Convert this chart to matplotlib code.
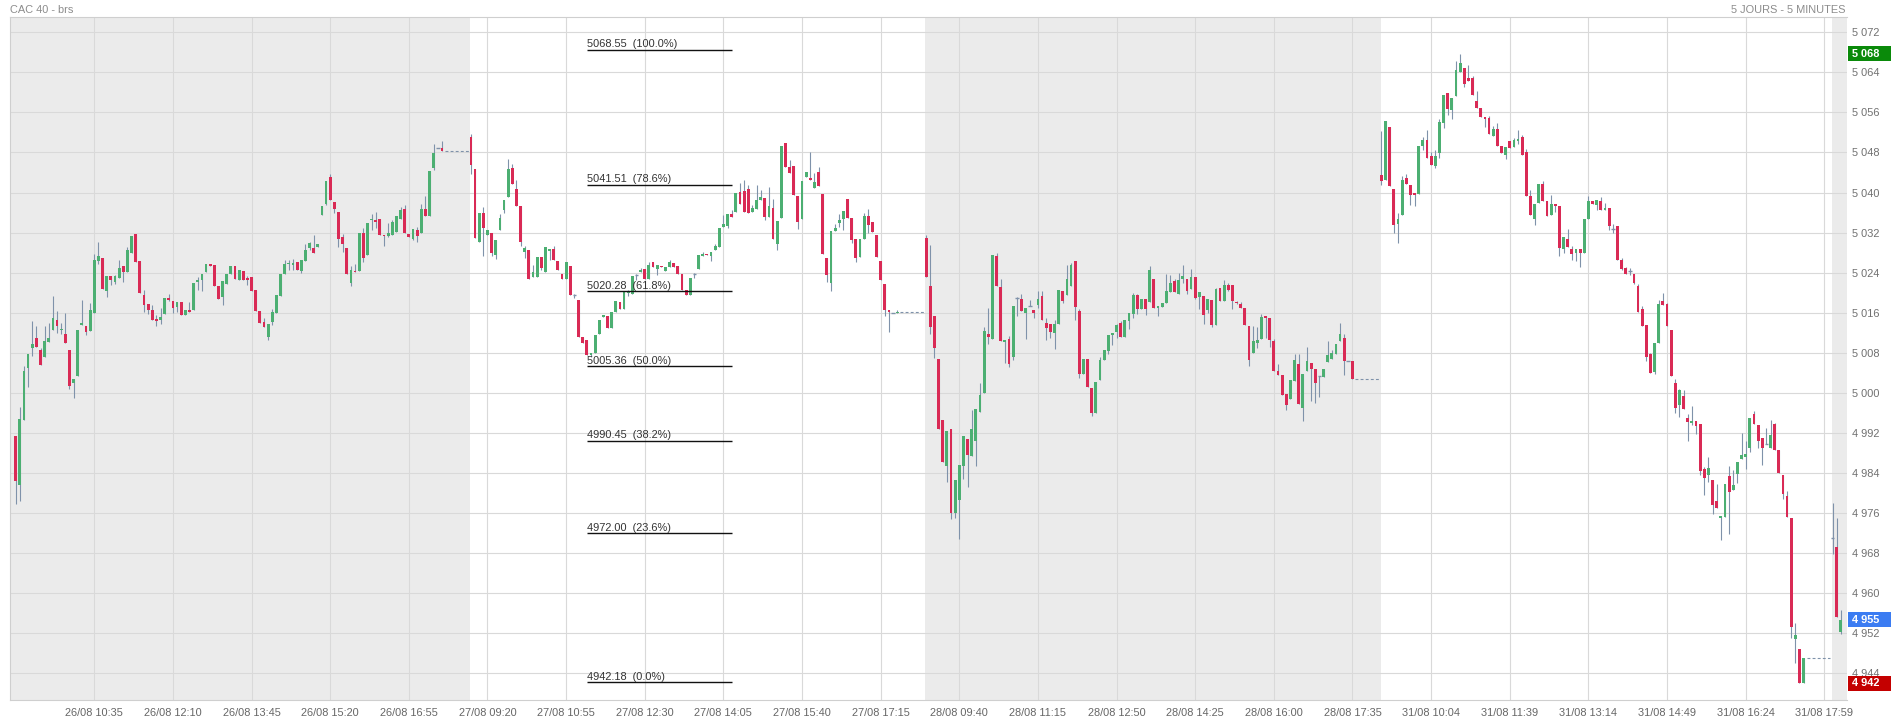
import matplotlib
matplotlib.use("Agg")
import matplotlib.pyplot as plt
import matplotlib.transforms as mtransforms
from matplotlib.patches import Rectangle
import numpy as np

plt.rcParams['font.family'] = ['Liberation Sans', 'DejaVu Sans']

# ---------------- data (5-minute OHLC) ----------------
day_starts = [0, 110, 220, 330, 439]

day_26 = [
    (4991.3, 4991.3, 4977.9, 4982.3), (4981.6, 4997.1, 4978.5, 4994.8), (4994.6, 5005.3, 4994.6, 5004.3),
    (5004.9, 5007.8, 5001.1, 5007.8), (5008.9, 5014.3, 5007.3, 5009.8), (5011.0, 5013.3, 5009.1, 5009.1),
    (5008.6, 5009.0, 5005.6, 5005.6), (5007.1, 5013.3, 5007.1, 5010.3), (5010.1, 5013.9, 5010.1, 5011.0),
    (5012.5, 5019.3, 5012.5, 5015.0), (5014.6, 5016.3, 5011.9, 5013.4), (5012.5, 5013.9, 5011.7, 5012.8),
    (5011.8, 5015.9, 5009.9, 5009.9), (5008.5, 5008.5, 5000.8, 5001.3), (5002.0, 5002.8, 4998.9, 5002.8),
    (5003.3, 5012.6, 5003.3, 5012.6), (5013.5, 5018.5, 5013.5, 5013.9), (5013.4, 5013.4, 5011.5, 5012.1),
    (5012.3, 5017.9, 5012.3, 5016.6), (5016.0, 5027.7, 5016.0, 5026.6), (5026.3, 5030.1, 5025.8, 5027.3),
    (5027.0, 5027.0, 5020.7, 5020.7), (5020.3, 5023.3, 5019.1, 5023.3), (5023.3, 5023.3, 5021.5, 5022.6),
    (5022.1, 5023.5, 5021.7, 5023.3), (5022.9, 5026.5, 5022.9, 5025.0), (5025.3, 5025.3, 5022.1, 5024.1),
    (5024.1, 5029.1, 5024.1, 5028.6), (5028.0, 5031.3, 5028.0, 5031.3), (5031.8, 5031.8, 5026.1, 5026.1),
    (5026.3, 5026.3, 5019.9, 5019.9), (5019.6, 5020.6, 5016.1, 5017.6), (5017.8, 5017.8, 5015.8, 5016.6),
    (5016.6, 5017.5, 5014.5, 5014.5), (5014.7, 5015.5, 5013.3, 5014.3), (5014.5, 5017.0, 5013.7, 5015.1),
    (5015.8, 5019.0, 5015.8, 5019.0), (5019.0, 5019.7, 5018.3, 5018.5), (5018.3, 5018.3, 5016.0, 5017.0),
    (5017.1, 5018.1, 5016.1, 5018.1), (5018.1, 5018.1, 5015.6, 5015.6), (5015.6, 5016.5, 5015.6, 5016.5),
    (5016.6, 5018.1, 5016.1, 5016.1), (5016.5, 5022.0, 5016.5, 5022.0), (5022.1, 5023.1, 5020.6, 5022.5),
    (5022.5, 5023.8, 5020.3, 5023.8), (5024.1, 5025.7, 5024.1, 5025.7), (5025.8, 5025.8, 5025.3, 5025.3),
    (5025.6, 5025.6, 5021.3, 5021.3), (5021.3, 5021.3, 5018.8, 5018.8), (5019.1, 5022.3, 5017.5, 5022.3),
    (5021.8, 5023.8, 5021.8, 5023.8), (5023.7, 5025.3, 5023.7, 5025.3), (5025.3, 5025.3, 5022.7, 5022.7),
    (5022.6, 5024.6, 5022.6, 5024.6), (5024.4, 5024.4, 5022.6, 5022.6), (5023.0, 5023.3, 5021.5, 5022.6),
    (5023.1, 5023.1, 5020.3, 5020.3), (5020.5, 5020.5, 5016.3, 5016.3), (5016.4, 5016.4, 5013.9, 5013.9),
    (5014.2, 5015.0, 5013.1, 5013.1), (5011.1, 5013.7, 5010.6, 5013.7), (5014.1, 5016.8, 5013.5, 5016.2),
    (5015.9, 5019.5, 5015.9, 5019.5), (5019.3, 5023.8, 5019.3, 5023.8), (5023.7, 5026.5, 5023.7, 5025.8),
    (5025.7, 5026.5, 5024.5, 5025.9), (5025.6, 5026.7, 5024.5, 5025.8), (5026.1, 5026.1, 5024.6, 5024.6),
    (5024.3, 5026.5, 5024.0, 5026.5), (5026.3, 5029.7, 5026.3, 5028.6), (5029.0, 5030.2, 5028.6, 5029.9),
    (5029.0, 5031.5, 5027.9, 5027.9), (5029.1, 5029.8, 5029.1, 5029.8), (5035.6, 5037.3, 5035.6, 5037.3),
    (5037.7, 5042.3, 5037.5, 5042.3), (5043.1, 5043.7, 5038.6, 5038.6), (5038.1, 5038.1, 5035.9, 5036.8),
    (5036.2, 5036.2, 5029.1, 5030.8), (5031.1, 5031.7, 5028.1, 5029.8), (5029.0, 5029.0, 5023.7, 5023.7),
    (5021.9, 5025.3, 5021.3, 5024.6), (5024.3, 5025.8, 5024.1, 5024.1), (5024.3, 5032.0, 5024.3, 5032.0),
    (5032.0, 5033.0, 5026.1, 5027.0), (5027.6, 5034.0, 5027.6, 5034.0), (5034.5, 5035.8, 5032.6, 5034.8),
    (5034.6, 5036.1, 5033.0, 5034.1), (5034.8, 5034.8, 5031.6, 5031.6), (5031.6, 5031.6, 5029.3, 5031.3),
    (5031.3, 5033.9, 5031.1, 5032.0), (5031.6, 5034.5, 5031.6, 5034.1), (5032.1, 5035.4, 5032.1, 5035.4),
    (5034.8, 5037.1, 5034.8, 5036.6), (5036.8, 5037.5, 5032.0, 5032.0), (5031.8, 5031.8, 5031.1, 5031.1),
    (5030.8, 5032.8, 5030.5, 5032.8), (5032.5, 5033.1, 5030.1, 5031.3), (5032.0, 5037.7, 5032.0, 5036.8),
    (5036.8, 5039.3, 5035.3, 5035.3), (5035.3, 5044.3, 5035.3, 5044.3), (5044.9, 5049.7, 5044.6, 5047.8),
    (5048.8, 5048.8, 5048.8, 5048.8), (5048.8, 5050.3, 5048.3, 5048.3),
]

day_27 = [
    (5051.1, 5051.6, 5043.8, 5045.5), (5044.8, 5044.8, 5031.0, 5031.0), (5030.1, 5036.0, 5030.1, 5036.0),
    (5036.0, 5037.1, 5027.3, 5033.0), (5031.6, 5032.5, 5031.6, 5032.5), (5032.0, 5032.0, 5027.3, 5028.0),
    (5027.5, 5030.5, 5026.7, 5030.5), (5032.5, 5035.8, 5032.5, 5035.0), (5036.5, 5038.6, 5035.9, 5038.6),
    (5039.1, 5046.7, 5039.1, 5044.8), (5045.0, 5045.7, 5041.8, 5041.8), (5040.8, 5042.6, 5037.3, 5037.3),
    (5037.4, 5037.4, 5029.3, 5030.1), (5028.1, 5029.3, 5027.0, 5029.0), (5028.6, 5028.6, 5022.8, 5022.8),
    (5023.1, 5025.6, 5023.1, 5024.1), (5023.1, 5027.1, 5023.1, 5027.1), (5027.1, 5027.1, 5024.6, 5025.0),
    (5024.1, 5029.1, 5024.1, 5029.1), (5028.3, 5028.7, 5026.5, 5028.7), (5028.8, 5029.3, 5026.5, 5026.5),
    (5026.3, 5026.3, 5024.5, 5024.5), (5023.8, 5023.8, 5022.7, 5022.8), (5022.8, 5026.1, 5022.8, 5026.1),
    (5025.4, 5025.4, 5019.5, 5019.6), (5019.5, 5019.8, 5018.9, 5019.5), (5018.5, 5018.5, 5011.1, 5011.1),
    (5011.1, 5011.1, 5010.0, 5010.0), (5010.6, 5010.6, 5007.5, 5007.5), (5007.5, 5008.0, 5007.2, 5008.0),
    (5008.0, 5011.5, 5008.0, 5011.5), (5011.8, 5014.5, 5011.8, 5014.5), (5015.1, 5015.5, 5015.1, 5015.5),
    (5015.3, 5015.3, 5013.0, 5013.0), (5013.0, 5016.1, 5013.0, 5016.1), (5016.1, 5018.3, 5016.1, 5018.3),
    (5018.1, 5018.2, 5016.7, 5016.7), (5016.8, 5020.3, 5016.8, 5020.3), (5020.0, 5020.5, 5019.3, 5020.3),
    (5019.8, 5023.3, 5019.8, 5023.3), (5023.5, 5023.7, 5022.5, 5023.5), (5024.1, 5025.0, 5024.1, 5024.6),
    (5024.8, 5024.8, 5022.8, 5022.8), (5022.8, 5026.1, 5022.8, 5025.6), (5026.1, 5026.1, 5025.1, 5025.1),
    (5024.8, 5025.5, 5023.6, 5025.5), (5025.3, 5025.3, 5025.1, 5025.1), (5024.4, 5025.1, 5024.4, 5025.1),
    (5025.1, 5026.6, 5025.1, 5026.1), (5025.9, 5025.9, 5025.1, 5025.1), (5025.4, 5025.4, 5023.8, 5023.8),
    (5023.8, 5023.8, 5020.5, 5020.5), (5020.6, 5020.6, 5019.6, 5019.6), (5019.6, 5023.0, 5019.6, 5023.0),
    (5023.8, 5024.0, 5022.9, 5023.8), (5024.8, 5027.5, 5024.8, 5027.5), (5027.3, 5028.1, 5027.3, 5027.8),
    (5027.8, 5027.8, 5027.5, 5027.5), (5027.3, 5028.1, 5026.3, 5028.1), (5028.5, 5029.7, 5028.5, 5029.3),
    (5029.1, 5033.0, 5029.1, 5033.0), (5033.1, 5035.5, 5033.1, 5033.7), (5033.3, 5035.8, 5033.0, 5035.8),
    (5035.8, 5036.6, 5035.1, 5035.1), (5036.1, 5039.9, 5036.1, 5039.9), (5040.1, 5041.9, 5037.8, 5037.8),
    (5040.3, 5042.5, 5036.1, 5036.1), (5040.8, 5041.5, 5035.9, 5035.9), (5036.1, 5037.5, 5036.1, 5037.0),
    (5036.7, 5041.5, 5036.7, 5038.5), (5038.5, 5040.5, 5038.5, 5039.1), (5038.9, 5038.9, 5034.6, 5035.1),
    (5035.1, 5041.1, 5035.1, 5037.3), (5036.9, 5038.8, 5030.8, 5030.8), (5029.8, 5034.3, 5028.5, 5034.3),
    (5035.0, 5049.3, 5035.0, 5049.3), (5049.8, 5049.8, 5045.1, 5045.1), (5045.1, 5046.5, 5044.0, 5044.0),
    (5045.3, 5045.3, 5039.6, 5039.6), (5039.3, 5039.3, 5032.7, 5034.1), (5034.8, 5042.3, 5034.8, 5042.3),
    (5043.1, 5044.1, 5043.1, 5044.1), (5042.8, 5048.1, 5042.6, 5042.6), (5041.0, 5044.0, 5041.0, 5042.1),
    (5044.1, 5045.1, 5041.3, 5041.3), (5039.7, 5039.7, 5027.8, 5027.8), (5026.9, 5026.9, 5022.1, 5023.5),
    (5022.0, 5032.3, 5020.3, 5032.3), (5032.4, 5033.7, 5032.4, 5033.0), (5034.0, 5035.8, 5033.2, 5034.6),
    (5034.8, 5036.3, 5032.6, 5036.3), (5038.8, 5038.8, 5035.0, 5035.0), (5035.0, 5035.0, 5029.9, 5030.5),
    (5030.8, 5030.8, 5026.1, 5027.0), (5027.1, 5030.7, 5027.1, 5030.7), (5030.8, 5035.9, 5030.8, 5035.3),
    (5035.3, 5036.8, 5031.9, 5033.5), (5034.1, 5034.1, 5032.1, 5032.1), (5031.6, 5031.6, 5027.1, 5027.1),
    (5026.3, 5026.3, 5022.6, 5022.6), (5021.7, 5021.7, 5015.3, 5016.5), (5016.5, 5016.5, 5012.1, 5016.1),
    (5016.0, 5016.0, 5016.0, 5016.0), (5015.9, 5016.6, 5015.9, 5016.1),
]

day_28 = [
    (5030.9, 5031.6, 5023.1, 5023.1), (5021.3, 5029.5, 5011.8, 5013.1), (5015.3, 5015.3, 5006.9, 5008.9),
    (5006.8, 5006.8, 4992.8, 4992.8), (4994.6, 4994.6, 4986.1, 4986.1), (4985.3, 4992.3, 4982.1, 4992.3),
    (4992.8, 4992.8, 4974.9, 4976.1), (4976.1, 4982.5, 4975.1, 4982.5), (4978.7, 4985.5, 4970.8, 4985.5),
    (4985.3, 4991.3, 4982.8, 4991.3), (4990.8, 4990.8, 4981.1, 4987.5), (4987.3, 4996.5, 4987.3, 4992.8),
    (4990.3, 4996.8, 4985.3, 4996.8), (4996.1, 5002.0, 4996.1, 4999.5), (5000.0, 5013.1, 5000.0, 5012.4),
    (5011.7, 5016.9, 5009.8, 5011.1), (5010.8, 5027.5, 5010.8, 5027.5), (5027.3, 5028.0, 5021.3, 5021.3),
    (5021.1, 5022.8, 5010.3, 5010.3), (5010.1, 5010.5, 5006.0, 5010.5), (5010.8, 5011.3, 5005.1, 5005.8),
    (5007.1, 5017.3, 5006.5, 5017.3), (5018.9, 5019.1, 5015.3, 5018.9), (5018.8, 5019.8, 5016.3, 5016.3),
    (5016.0, 5017.0, 5010.8, 5017.0), (5017.3, 5018.5, 5017.3, 5017.3), (5016.6, 5016.6, 5014.9, 5016.0),
    (5017.6, 5020.3, 5017.0, 5018.8), (5019.3, 5020.3, 5014.5, 5014.5), (5014.0, 5014.9, 5010.5, 5013.0),
    (5013.7, 5013.7, 5010.9, 5012.1), (5012.0, 5014.5, 5008.7, 5013.8), (5013.8, 5020.5, 5013.8, 5020.5),
    (5020.3, 5020.3, 5018.0, 5018.3), (5019.6, 5025.5, 5019.6, 5022.8), (5021.3, 5026.0, 5021.3, 5025.6),
    (5026.3, 5026.3, 5014.6, 5017.1), (5016.3, 5016.8, 5002.9, 5003.8), (5003.8, 5006.8, 5003.8, 5006.8),
    (5006.8, 5006.8, 5001.1, 5001.1), (5000.9, 5000.9, 4995.3, 4996.0), (4996.0, 5002.1, 4996.0, 5002.1),
    (5002.5, 5007.1, 5002.5, 5006.5), (5006.5, 5008.5, 5006.5, 5008.5), (5008.3, 5011.6, 5007.7, 5011.6),
    (5011.6, 5012.0, 5009.5, 5012.0), (5012.1, 5013.8, 5011.0, 5013.5), (5014.0, 5014.3, 5011.1, 5011.1),
    (5011.1, 5014.5, 5011.1, 5014.5), (5014.3, 5016.0, 5012.7, 5016.0), (5015.8, 5020.0, 5015.0, 5019.6),
    (5019.6, 5019.8, 5015.8, 5016.8), (5016.8, 5018.8, 5016.8, 5018.8), (5018.8, 5018.8, 5015.6, 5016.8),
    (5018.1, 5025.3, 5018.1, 5024.6), (5022.8, 5022.8, 5016.9, 5016.9), (5016.9, 5017.3, 5015.3, 5017.3),
    (5017.1, 5018.0, 5017.1, 5018.0), (5018.0, 5023.8, 5018.0, 5020.3), (5020.1, 5023.6, 5020.1, 5022.0),
    (5022.3, 5022.7, 5020.1, 5020.1), (5019.8, 5023.9, 5019.8, 5022.5), (5022.8, 5025.6, 5021.9, 5023.3),
    (5022.8, 5022.8, 5019.8, 5020.3), (5020.7, 5024.8, 5020.7, 5023.1), (5023.1, 5023.1, 5018.7, 5019.0),
    (5019.1, 5020.1, 5016.8, 5020.1), (5019.3, 5019.3, 5013.7, 5015.6), (5016.5, 5018.7, 5015.9, 5018.7),
    (5018.5, 5018.5, 5013.1, 5013.6), (5013.6, 5020.9, 5013.6, 5020.7), (5020.9, 5020.9, 5018.3, 5018.3),
    (5018.3, 5022.5, 5018.3, 5021.5), (5021.5, 5022.0, 5020.3, 5020.6), (5021.6, 5021.6, 5016.8, 5018.3),
    (5018.1, 5018.3, 5017.8, 5017.9), (5017.8, 5018.1, 5017.0, 5017.0), (5017.0, 5017.0, 5013.6, 5013.6),
    (5013.3, 5013.3, 5005.3, 5006.6), (5008.0, 5013.3, 5008.0, 5010.3), (5010.0, 5013.1, 5009.0, 5010.6),
    (5010.8, 5015.7, 5010.8, 5015.1), (5015.3, 5015.3, 5011.0, 5015.0), (5015.0, 5015.0, 5009.1, 5010.6),
    (5010.3, 5010.8, 5004.3, 5004.3), (5004.3, 5005.8, 5003.5, 5003.5), (5003.6, 5003.6, 4999.6, 4999.6),
    (4999.8, 4999.8, 4996.6, 4997.6), (4998.8, 5002.6, 4998.8, 5002.6), (5002.3, 5007.8, 5002.3, 5006.6),
    (5005.8, 5007.8, 4997.8, 4997.8), (4996.9, 5003.8, 4994.3, 5003.8), (5004.3, 5009.1, 5004.3, 5006.4),
    (5006.0, 5006.0, 4998.3, 5004.8), (5004.8, 5004.8, 4997.9, 5001.9), (5003.3, 5003.3, 4999.1, 5003.3),
    (5003.1, 5004.8, 5003.1, 5004.8), (5006.1, 5010.3, 5006.1, 5007.6), (5006.8, 5008.5, 5006.8, 5008.0),
    (5007.7, 5009.8, 5007.7, 5009.8), (5010.3, 5014.0, 5010.3, 5011.7), (5010.9, 5011.8, 5003.5, 5006.3),
    (5006.3, 5006.3, 5006.3, 5006.3), (5006.3, 5006.3, 5002.8, 5002.8),
]

day_31 = [
    (5043.6, 5052.3, 5041.5, 5042.3), (5042.6, 5054.3, 5042.6, 5054.3), (5053.0, 5053.0, 5041.3, 5041.3),
    (5040.8, 5040.8, 5031.9, 5033.5), (5033.8, 5035.9, 5029.9, 5034.8), (5035.6, 5043.3, 5035.6, 5042.5),
    (5043.0, 5043.8, 5041.8, 5041.8), (5041.6, 5041.6, 5037.6, 5039.6), (5039.8, 5039.8, 5037.3, 5039.6),
    (5039.8, 5049.3, 5039.8, 5049.3), (5049.3, 5051.0, 5048.5, 5050.5), (5050.5, 5052.5, 5047.0, 5047.0),
    (5047.3, 5048.0, 5045.6, 5045.6), (5045.3, 5048.5, 5045.0, 5047.4), (5047.8, 5054.7, 5047.0, 5054.0),
    (5053.8, 5059.5, 5052.9, 5059.5), (5059.8, 5059.8, 5055.5, 5056.6), (5056.4, 5058.8, 5054.7, 5058.8),
    (5059.3, 5066.3, 5059.3, 5064.5), (5064.0, 5067.7, 5064.0, 5065.8), (5064.9, 5064.9, 5061.1, 5061.6),
    (5062.8, 5065.5, 5062.3, 5062.3), (5062.8, 5063.3, 5059.5, 5059.5), (5058.3, 5060.3, 5056.8, 5056.8),
    (5056.9, 5056.9, 5055.1, 5055.1), (5055.1, 5055.1, 5053.1, 5054.7), (5054.9, 5055.3, 5051.6, 5051.6),
    (5051.3, 5053.3, 5051.3, 5052.6), (5052.6, 5053.8, 5049.3, 5049.3), (5049.3, 5049.3, 5047.8, 5047.8),
    (5047.6, 5049.0, 5046.7, 5049.0), (5050.3, 5050.3, 5048.8, 5048.8), (5049.0, 5050.8, 5049.0, 5050.5),
    (5050.3, 5052.5, 5049.7, 5050.7), (5051.1, 5051.4, 5047.6, 5047.6), (5048.0, 5048.6, 5039.4, 5039.4),
    (5039.4, 5040.6, 5035.6, 5035.6), (5034.8, 5037.7, 5033.5, 5037.7), (5037.9, 5041.8, 5037.9, 5041.8),
    (5041.8, 5042.3, 5038.3, 5038.3), (5038.3, 5038.3, 5035.3, 5035.3), (5035.6, 5039.5, 5035.6, 5037.7),
    (5037.8, 5037.8, 5036.1, 5037.3), (5037.4, 5037.4, 5027.3, 5029.0), (5028.8, 5031.1, 5027.9, 5031.1),
    (5030.8, 5032.7, 5029.1, 5029.1), (5028.8, 5029.3, 5026.5, 5027.7), (5027.9, 5028.8, 5026.3, 5028.8),
    (5028.8, 5028.8, 5025.1, 5028.0), (5028.0, 5034.8, 5028.0, 5034.8), (5034.8, 5039.3, 5034.8, 5038.4),
    (5038.4, 5038.4, 5037.8, 5037.8), (5037.6, 5038.6, 5036.5, 5038.6), (5038.4, 5039.1, 5036.6, 5036.6),
    (5036.6, 5038.0, 5036.6, 5036.8), (5037.0, 5037.0, 5032.5, 5033.3), (5032.8, 5033.8, 5031.9, 5032.8),
    (5033.4, 5033.4, 5026.6, 5026.6), (5026.6, 5027.0, 5024.6, 5024.8), (5024.9, 5025.2, 5023.8, 5023.8),
    (5024.3, 5024.9, 5023.6, 5024.3), (5023.7, 5023.7, 5021.7, 5021.9), (5021.3, 5021.7, 5016.1, 5016.1),
    (5016.8, 5017.3, 5013.3, 5013.3), (5013.5, 5013.5, 5006.3, 5007.1), (5007.7, 5007.9, 5004.0, 5004.0),
    (5004.1, 5010.0, 5003.7, 5010.0), (5010.0, 5018.5, 5010.0, 5017.8), (5018.3, 5019.9, 5017.5, 5017.5),
    (5017.7, 5018.0, 5013.3, 5013.3), (5012.6, 5012.6, 5003.3, 5003.3), (5002.0, 5002.8, 4995.9, 4997.0),
    (4997.5, 5000.8, 4995.1, 5000.5), (4999.3, 5000.5, 4996.7, 4996.7), (4995.0, 4995.7, 4990.3, 4994.1),
    (4994.0, 4997.3, 4993.5, 4994.3), (4994.3, 4994.3, 4991.8, 4993.3), (4993.7, 4993.7, 4983.5, 4984.3),
    (4984.8, 4985.1, 4979.6, 4983.0), (4983.5, 4987.1, 4982.1, 4985.0), (4982.6, 4982.6, 4975.8, 4977.6),
    (4978.5, 4981.7, 4977.0, 4977.0), (4975.0, 4975.4, 4970.6, 4975.4), (4975.3, 4981.8, 4975.3, 4981.8),
    (4983.3, 4985.3, 4971.9, 4980.1), (4980.6, 4984.6, 4980.6, 4981.6), (4983.8, 4986.1, 4981.9, 4986.1),
    (4986.8, 4991.9, 4986.8, 4987.6), (4987.1, 4990.3, 4984.7, 4987.8), (4989.0, 4995.0, 4988.1, 4995.0),
    (4995.7, 4996.3, 4993.8, 4993.8), (4993.5, 4993.5, 4988.9, 4990.3), (4991.0, 4991.0, 4985.6, 4989.0),
    (4989.7, 4992.9, 4989.7, 4989.7), (4989.0, 4994.5, 4989.0, 4991.6), (4993.7, 4994.0, 4988.6, 4988.6),
    (4988.6, 4988.6, 4983.9, 4983.9), (4983.5, 4983.5, 4978.9, 4979.8), (4979.4, 4980.3, 4975.3, 4975.3),
    (4975.0, 4975.0, 4951.1, 4953.3), (4950.9, 4954.1, 4946.1, 4951.7), (4948.8, 4948.8, 4942.0, 4942.0),
    (4942.0, 4947.0, 4942.0, 4947.0),
]

day_01 = [
    (4971.0, 4978.1, 4967.9, 4971.0), (4969.3, 4975.1, 4955.3, 4955.3), (4952.3, 4956.7, 4951.8, 4954.7),
]

fib_levels = [5068.55, 5041.51, 5020.28, 5005.36, 4990.45, 4972.00, 4942.18]
fib_pcts = [100.0, 78.6, 61.8, 50.0, 38.2, 23.6, 0.0]

xtick_labels = [
    "26/08 10:35", "26/08 12:10", "26/08 13:45", "26/08 15:20", "26/08 16:55",
    "27/08 09:20", "27/08 10:55", "27/08 12:30", "27/08 14:05", "27/08 15:40", "27/08 17:15",
    "28/08 09:40", "28/08 11:15", "28/08 12:50", "28/08 14:25", "28/08 16:00", "28/08 17:35",
    "31/08 10:04", "31/08 11:39", "31/08 13:14", "31/08 14:49", "31/08 16:24", "31/08 17:59",
]
ytick_values = list(range(4944, 5073, 8))

# ---------------- styling ----------------
GREEN = "#4caf72"
RED = "#d92a55"
WICK = "#7f92aa"
SHADE = "#ebebeb"
GRID = "#d9d9d9"

W, H = 1891, 722
fig = plt.figure(figsize=(W / 100, H / 100), dpi=100)
fig.patch.set_facecolor("white")
ax = fig.add_axes([10 / W, 22 / H, 1837 / W, 683 / H])
ax.set_facecolor("white")
XMIN, XMAX = -1.37, 442.48
ax.set_xlim(XMIN, XMAX)
ax.set_ylim(4938.66, 5075.06)

# day shading (alternate days grey)
bounds = [XMIN] + [s - 0.2 for s in day_starts[1:]] + [XMAX]
for k in range(len(bounds) - 1):
    if k % 2 == 0:
        ax.axvspan(bounds[k], bounds[k + 1], color=SHADE, lw=0, zorder=0)

days = [day_26, day_27, day_28, day_31, day_01]
for d, (start, data) in enumerate(zip(day_starts, days)):
    arr = np.array(data)
    o, h, l, c = arr[:, 0], arr[:, 1], arr[:, 2], arr[:, 3]
    idx = start + np.arange(len(arr))
    ax.vlines(idx, l, h, color=WICK, lw=0.8, zorder=2)
    bottom = np.minimum(o, c)
    height = np.maximum(np.abs(c - o), 0.3)
    up = c > o
    dn = c < o
    dj = c == o
    ax.bar(idx[up], height[up], bottom=bottom[up], width=0.68, color=GREEN, lw=0, zorder=3)
    ax.bar(idx[dn], height[dn], bottom=bottom[dn], width=0.68, color=RED, lw=0, zorder=3)
    ax.hlines(c[dj], idx[dj] - 0.45, idx[dj] + 0.45, color=WICK, lw=1.0, zorder=3)
    if d < len(days) - 1:
        ax.plot([idx[-1] + 0.7, day_starts[d + 1] - 0.55], [c[-1], c[-1]],
                color=WICK, lw=0.8, ls=(0, (2.6, 2.0)), zorder=2)

# Fibonacci retracement levels
FX0, FX1 = 138.0, 173.1
for lev, pct in zip(fib_levels, fib_pcts):
    ax.hlines(lev, FX0, FX1, color="#111111", lw=1.0, zorder=4)
    ax.annotate(f"{lev:.2f}  ({pct:.1f}%)", xy=(FX0, lev), xytext=(0, 2.5),
                textcoords="offset pixels", ha="left", va="baseline",
                fontsize=7.9, color="#333333", zorder=5)

# axes, ticks, grid
ax.set_xticks(19 + 19 * np.arange(len(xtick_labels)))
ax.set_xticklabels(xtick_labels)
ax.yaxis.tick_right()
ax.set_yticks(ytick_values)
ax.set_yticklabels([f"{v:,}".replace(",", " ") for v in ytick_values])
ax.tick_params(axis="x", length=0, pad=5.5, labelsize=7.9, labelcolor="#666666")
ax.tick_params(axis="y", length=0, pad=3.4, labelsize=7.9, labelcolor="#707070")
ax.grid(True, color=GRID, lw=0.8)
ax.set_axisbelow(True)
for side in ("left", "top", "bottom"):
    ax.spines[side].set_color("#cfcfcf")
    ax.spines[side].set_linewidth(0.8)
ax.spines["right"].set_visible(False)

# price tags on the right
all_ohlc = np.vstack([np.array(d) for d in days])
tags = [
    (all_ohlc[:, 1].max(), "#0a8a0a"),
    (days[-1][-1][3], "#3b7cf2"),
    (all_ohlc[:, 2].min(), "#c40000"),
]
trans = mtransforms.blended_transform_factory(ax.transAxes, ax.transData)
for val, col in tags:
    ax.add_patch(Rectangle((1.0008, val - 1.5), 44 / 1837, 3.0, transform=trans,
                           facecolor=col, edgecolor="none", clip_on=False, zorder=6))
    ax.text(1.0026, val, f"{val:,.0f}".replace(",", " "), transform=trans, ha="left",
            va="center", fontsize=7.9, color="white", fontweight="bold", zorder=7, clip_on=False)

# header texts
fig.text(10 / W, 1 - 12.7 / H, "CAC 40 - brs", ha="left", va="baseline", fontsize=7.9, color="#8c8c8c")
fig.text(1845.7 / W, 1 - 12.7 / H, "5 JOURS - 5 MINUTES", ha="right", va="baseline",
         fontsize=7.9, color="#8c8c8c")

fig.savefig("out.png", dpi=100, facecolor="white")
